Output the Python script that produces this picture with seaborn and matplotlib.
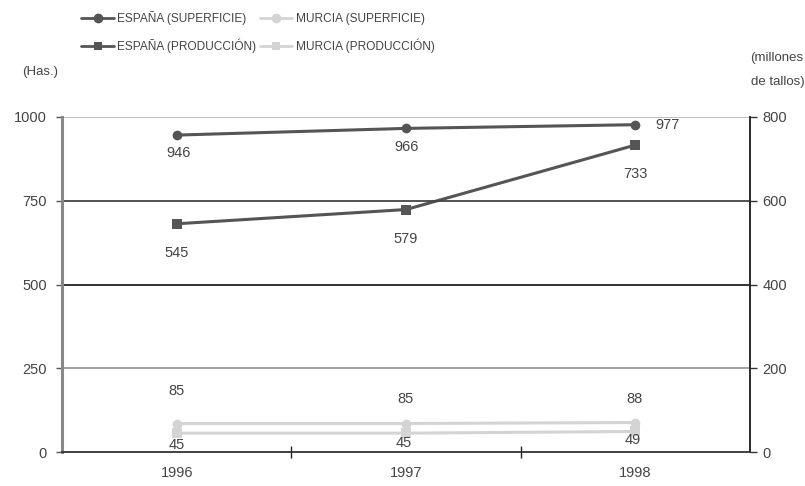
import matplotlib
matplotlib.use("Agg")
import matplotlib.pyplot as plt
import seaborn as sns
import pandas as pd
from matplotlib.lines import Line2D

years = ["1996", "1997", "1998"]
espana_superficie = [946, 966, 977]
murcia_superficie = [85, 85, 88]
espana_produccion = [545, 579, 733]
murcia_produccion = [45, 45, 49]
left_ticks = [0, 250, 500, 750, 1000]
right_ticks = [0, 200, 400, 600, 800]

sns.set_theme(style="white")
plt.rcParams['font.family'] = ['Liberation Sans', 'DejaVu Sans']

DARK = "#555555"
LIGHT = "#d4d4d4"
TXT = "#444444"

fig = plt.figure(figsize=(8.05, 4.86), dpi=100)
ax = fig.add_axes([62/805, 1-452/486, (750-62)/805, (452-117)/486])
ax2 = ax.twinx()

xpos = list(range(len(years)))
df_sup = pd.DataFrame({"x": xpos * 2,
                       "v": espana_superficie + murcia_superficie,
                       "s": ["ES"] * 3 + ["MU"] * 3})
df_prod = pd.DataFrame({"x": xpos * 2,
                        "v": espana_produccion + murcia_produccion,
                        "s": ["ES"] * 3 + ["MU"] * 3})

# gridlines first
grid_colors = {250: "#999999", 500: "#222222", 750: "#444444", 1000: "#bbbbbb"}
for yv, c in grid_colors.items():
    ax.axhline(yv, color=c, lw=1.3, zorder=0)

sns.lineplot(data=df_prod, x="x", y="v", hue="s", palette={"ES": DARK, "MU": LIGHT},
             marker="s", markersize=7, markeredgewidth=0, lw=2.2, ax=ax2, legend=False)
sns.lineplot(data=df_sup, x="x", y="v", hue="s", palette={"ES": DARK, "MU": LIGHT},
             marker="o", markersize=7, markeredgewidth=0, lw=2.2, ax=ax, legend=False)

ax.set_xlim(-0.5, 2.5)
ax.set_ylim(0, 1000)
ax2.set_ylim(0, 800)
ax.set_yticks(left_ticks)
ax2.set_yticks(right_ticks)
ax.set_xticks(xpos)
ax.set_xticklabels(years)
ax.set_xticks([0.5, 1.5], minor=True)
ax.tick_params(axis="x", which="major", length=0, pad=10, labelsize=10.5, labelcolor=TXT)
ax.tick_params(axis="x", which="minor", length=8, direction="inout", width=1, color="#222222", bottom=True)
ax.tick_params(axis="y", which="major", length=4, width=1, direction="out", left=True,
               color="#555555", labelsize=10.5, labelcolor=TXT, pad=7)
ax2.tick_params(axis="y", which="major", length=5, width=1, direction="out", right=True,
                color="#333333", labelsize=10.5, labelcolor=TXT, pad=4)
for a in (ax, ax2):
    a.set_xlabel("")
    a.set_ylabel("")
    a.spines["top"].set_visible(False)
ax.spines["left"].set_color("#888888")
ax.spines["left"].set_linewidth(2.2)
ax.spines["bottom"].set_color("#333333")
ax.spines["bottom"].set_linewidth(1.3)
ax2.spines["left"].set_visible(False)
ax2.spines["bottom"].set_visible(False)
ax2.spines["right"].set_color("#555555")
ax2.spines["right"].set_linewidth(1.3)
ax.set_zorder(ax2.get_zorder() + 1)
ax.patch.set_visible(False)

# data labels
def lab(axis, vals, offs, ha="center"):
    for i, (v, (dx, dy)) in enumerate(zip(vals, offs)):
        axis.annotate(str(v), (i, v), xytext=(dx, -dy), textcoords="offset pixels",
                      ha=ha if not isinstance(ha, list) else ha[i], va="center",
                      fontsize=10.5, color=TXT)

lab(ax, espana_superficie, [(2, 18), (1, 19), (20, 0)], ha=["center", "center", "left"])
lab(ax2, espana_produccion, [(0, 29), (0, 29), (0, 29)])
lab(ax, murcia_superficie, [(0, -33), (-1, -25), (-1, -24)])
lab(ax2, murcia_produccion, [(0, 12), (-2, 10), (-3, 9)])

# axis unit labels
fig.text(22/805, 1-72/486, "(Has.)", fontsize=9.5, color=TXT, va="center", ha="left")
fig.text(803/805, 1-58/486, "(millones", fontsize=9.5, color=TXT, va="center", ha="right")
fig.text(805/805, 1-82/486, "de tallos)", fontsize=9.5, color=TXT, va="center", ha="right")

handles = [
    Line2D([], [], color=DARK, lw=2, marker="o", markersize=7, markeredgewidth=0),
    Line2D([], [], color=DARK, lw=2, marker="s", markersize=6, markeredgewidth=0),
    Line2D([], [], color=LIGHT, lw=2, marker="o", markersize=7, markeredgewidth=0),
    Line2D([], [], color=LIGHT, lw=2, marker="s", markersize=6, markeredgewidth=0),
]
labels = ["ESPAÑA (SUPERFICIE)", "ESPAÑA (PRODUCCIÓN)",
          "MURCIA (SUPERFICIE)", "MURCIA (PRODUCCIÓN)"]
fig.legend(handles, labels, ncol=2, loc="center", bbox_to_anchor=(258/805, 1-32/486),
           frameon=False, fontsize=8.6, handlelength=2.7, handletextpad=0.3,
           columnspacing=0.3, labelspacing=1.1, labelcolor=TXT)

fig.savefig("out.png", dpi=100)
